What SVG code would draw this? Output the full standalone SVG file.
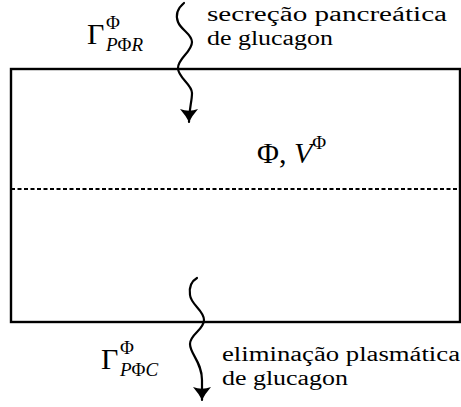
<svg xmlns="http://www.w3.org/2000/svg" width="461" height="407" viewBox="0 0 461 407">
<style>
.lbl{font-size:20px;fill:#000}
.big{font-size:30px;fill:#000}
.sm{font-size:19px;fill:#000}
.it{font-style:italic}
.flux{fill:none;stroke:#000;stroke-width:2.2;stroke-linecap:round}
</style>
<defs>
<marker id="arr" viewBox="0 0 14 22" refX="13" refY="11" markerWidth="14" markerHeight="22" markerUnits="userSpaceOnUse" orient="auto">
<path d="M0,2 Q7,8 13,11 Q7,14 0,20 Q3.5,11 0,2 Z" fill="#000"/>
</marker>
</defs>
<g id="compartment">
<rect x="11" y="69" width="449" height="253" fill="none" stroke="#000" stroke-width="2.4"/>
<line x1="11" y1="189" x2="460" y2="189" stroke="#000" stroke-width="2.2" stroke-dasharray="4 2.5"/>
<text class="big" font-family="Liberation Serif" x="257" y="163">Φ, <tspan class="it">V</tspan><tspan class="sm" dy="-14">Φ</tspan></text>
</g>
<g id="connectors">
<path class="flux" d="M184,3 C178,8 175,14 178,22 C181,30 192,34 192,42 C192,52 178,58 178,68 C178,78 192,84 192,93 C192,102 189,108 189,122" marker-end="url(#arr)"/>
<path class="flux" d="M197,278 C190,282 189,288 190,295 C191,305 204,310 204,320 C204,330 190,334 190,344 C190,354 202,362 202,380 L202,400" marker-end="url(#arr)"/>
</g>
<g id="input-label">
<text class="big" font-family="Liberation Serif" x="87" y="44">Γ</text>
<text class="sm" font-family="Liberation Serif" x="106" y="29">Φ</text>
<text class="sm" font-family="Liberation Serif" x="106" y="51"><tspan class="it">P</tspan>Φ<tspan class="it">R</tspan></text>
<text class="lbl" font-family="Liberation Serif" x="207" y="21" textLength="240" lengthAdjust="spacingAndGlyphs">secreção pancreática</text>
<text class="lbl" font-family="Liberation Serif" x="207" y="45" textLength="126" lengthAdjust="spacingAndGlyphs">de glucagon</text>
</g>
<g id="output-label">
<text class="big" font-family="Liberation Serif" x="101" y="369">Γ</text>
<text class="sm" font-family="Liberation Serif" x="120" y="354">Φ</text>
<text class="sm" font-family="Liberation Serif" x="120" y="376"><tspan class="it">P</tspan>Φ<tspan class="it">C</tspan></text>
<text class="lbl" font-family="Liberation Serif" x="222" y="361" textLength="238" lengthAdjust="spacingAndGlyphs">eliminação plasmática</text>
<text class="lbl" font-family="Liberation Serif" x="222" y="385" textLength="126" lengthAdjust="spacingAndGlyphs">de glucagon</text>
</g>
</svg>
